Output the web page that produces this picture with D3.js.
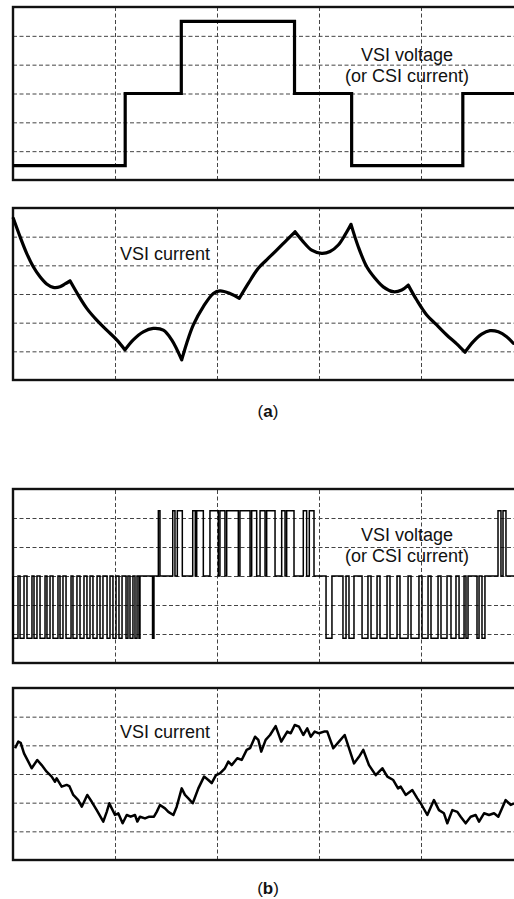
<!DOCTYPE html>
<html>
<head>
<meta charset="utf-8">
<script src="https://cdn.jsdelivr.net/npm/d3@7"></script>
<style>
  html, body { margin: 0; padding: 0; background: #fff; }
  svg { display: block; }
  text { font-family: "Liberation Sans", Arial, Helvetica, sans-serif; fill: #111; }
</style>
</head>
<body>
<svg id="chart" width="514" height="899"></svg>
<script>
// ---------------- DATA (time axis: 0..500, 100 per grid division; values: -3..3 grid divisions) ----------------
const xGridTicks = [100, 200, 300, 400];
const yGridTicks = [-2, -1, 0, 1, 2];

// (a) six-step VSI voltage
const stepTimes  = [0, 110, 165, 276, 332, 441, 500];
const stepLevels = [-2.5, 0, 2.5, 0, -2.5, 0, 0];

// (a) VSI current
const curATimes = [0.3, 6.9, 13.4, 19.9, 26.5, 33.0, 39.5, 46.1, 51.0, 55.9, 64.0, 72.3, 82.1, 91.9, 101.7,
  109.8, 117.9, 127.7, 137.5, 147.4, 155.6, 165.4, 170.3, 176.8, 186.6, 196.4, 202.9, 212.7, 221.9,
  230.7, 240.5, 248.7, 258.5, 268.3, 276.5, 284.6, 292.8, 302.6, 310.8, 318.9, 325.5, 331.4,
  338.5, 346.8, 354.9, 363.0, 372.8, 381.1, 387.5, 395.8, 405.6, 415.4, 425.2, 435.0, 443.1,
  451.3, 459.5, 467.6, 475.8, 484.0, 490.5];
const curAValues = [2.64, 2.00, 1.42, 0.95, 0.60, 0.35, 0.23, 0.25, 0.35, 0.46, -0.04, -0.50, -0.91, -1.26, -1.60,
  -1.95, -1.60, -1.32, -1.20, -1.26, -1.60, -2.30, -1.72, -1.08, -0.44, 0.02, 0.11, 0.02, -0.15,
  0.37, 0.90, 1.19, 1.53, 1.88, 2.17, 1.82, 1.53, 1.42, 1.48, 1.71, 2.06, 2.43,
  1.65, 0.95, 0.55, 0.25, 0.08, 0.14, 0.31, -0.21, -0.73, -1.08, -1.43, -1.74, -2.03,
  -1.66, -1.40, -1.28, -1.32, -1.49, -1.72];
// switching instants (corners of the current waveform)
const commutationTimes = [55.9, 109.8, 165.4, 221.9, 276.5, 331.4, 387.5, 443.1];

// (b) PWM voltage: pulse levels and pulse intervals [start, end]
const pwmHigh = 2.25;
const pwmLow = -2.15;
const negPulses = [
  [0, 4.9], [6.9, 10.8], [13.7, 18.6], [20.6, 23.5], [26.5, 31.4], [33.3, 36.3], [39.2, 44.1], [46.1, 49.0],
  [52.0, 56.9], [58.8, 62.7], [65.7, 69.6], [72.5, 75.5], [78.4, 82.4], [85.3, 88.2], [92.2, 95.1],
  [98.0, 101.0], [103.9, 106.9], [110.8, 112.7], [114.7, 117.6], [119.6, 121.6], [123.5, 124.5], [136.8, 138.2],
  [306.9, 312.7], [323.5, 326.5], [329.4, 334.3], [342.2, 348.0], [351.0, 356.9], [359.8, 366.7], [369.6, 376.5],
  [379.4, 387.3], [390.2, 398.0], [401.0, 406.9], [409.8, 416.7], [419.6, 425.5], [429.4, 434.3], [437.3, 442.2],
  [444.1, 446.1], [454.9, 456.9], [459.8, 462.7]
];
const posPulses = [
  [142.5, 144.1], [156.6, 158.8], [161.1, 166.0], [176.2, 178.7], [180.1, 186.6], [193.1, 201.3], [202.9, 207.8],
  [209.5, 220.9], [222.5, 232.4], [234.0, 238.9], [242.2, 247.1], [248.7, 256.9], [263.4, 266.7], [268.3, 275.5],
  [284.6, 287.9], [290.5, 295.1], [475.5, 478.4], [480.4, 483.3]
];

// (b) VSI current
const curBTimes = [2.0, 5.2, 7.5, 10.8, 15.0, 18.3, 23.8, 28.1, 33.0, 37.9, 41.2, 42.8, 47.7, 52.6, 55.2, 59.1,
  64.0, 67.4, 72.8, 77.2, 82.1, 88.5, 91.9, 94.4, 96.8, 100.0, 103.2, 107.5, 111.5, 115.4, 119.6, 121.9,
  124.5, 129.4, 133.6, 138.2, 140.9, 144.1, 149.0, 152.3, 157.2, 160.5, 165.4, 168.6, 171.9, 176.2, 181.7,
  187.3, 191.5, 194.8, 199.0, 202.9, 207.8, 211.1, 214.4, 219.9, 224.2, 229.1, 232.4, 237.3, 240.5, 243.4,
  247.7, 252.0, 257.5, 263.0, 268.9, 272.3, 276.2, 280.4, 284.6, 288.5, 291.9, 295.8, 300.0, 304.9, 308.1,
  314.0, 319.6, 325.2, 329.4, 334.3, 339.2, 343.4, 349.0, 355.6, 362.1, 367.0, 372.8, 377.5, 380.1, 385.0,
  391.5, 396.4, 399.7, 406.2, 412.7, 417.6, 422.5, 425.8, 430.7, 435.6, 438.9, 443.8, 448.7, 453.6, 456.9,
  461.8, 466.7, 471.6, 475.8, 483.0, 487.9, 491.2];
const curBValues = [0.90, 1.13, 1.09, 0.72, 0.43, 0.20, 0.49, 0.31, 0.08, -0.09, -0.27, -0.15, -0.44, -0.38, -0.42, -0.73,
  -0.91, -1.14, -0.73, -0.97, -1.26, -1.66, -1.32, -1.02, -1.20, -1.43, -1.37, -1.72, -1.43, -1.49, -1.43, -1.66,
  -1.49, -1.55, -1.49, -1.49, -1.32, -1.08, -1.20, -1.32, -1.43, -1.14, -0.50, -0.73, -0.85, -1.02, -0.50,
  -0.09, -0.21, -0.32, -0.04, 0.02, 0.20, 0.43, 0.31, 0.55, 0.49, 0.84, 0.90, 1.30, 1.19, 0.78,
  1.19, 1.36, 1.67, 1.13, 1.48, 1.42, 1.71, 1.65, 1.36, 1.59, 1.30, 1.48, 1.42, 1.48, 1.48,
  0.90, 1.13, 1.36, 0.90, 0.37, 0.60, 0.84, 0.31, -0.04, 0.20, -0.09, -0.21, -0.50, -0.44, -0.73,
  -0.56, -0.85, -1.02, -1.43, -0.91, -1.26, -1.37, -1.72, -1.26, -1.32, -1.49, -1.72, -1.49, -1.43, -1.66,
  -1.37, -1.43, -1.37, -1.49, -0.91, -1.08, -1.02];

const labelVoltage = ["VSI voltage", "(or CSI current)"];
const labelCurrent = "VSI current";
const captions = ["a", "b"];

// ---------------- DRAWING ----------------
const svg = d3.select("#chart");
const X0 = 13, X1 = 523;

function makePanel(top, bottom) {
  const x = d3.scaleLinear().domain([0, 500]).range([X0, X1]);
  const y = d3.scaleLinear().domain([-3, 3]).range([bottom, top]);
  const g = svg.append("g");
  const vg = g.append("g").attr("transform", `translate(0,${bottom})`)
    .call(d3.axisBottom(x).tickValues(xGridTicks).tickSize(-(bottom - top)).tickFormat(""));
  const hg = g.append("g").attr("transform", `translate(${X0},0)`)
    .call(d3.axisLeft(y).tickValues(yGridTicks).tickSize(-(X1 - X0)).tickFormat(""));
  [vg, hg].forEach(a => {
    a.select(".domain").remove();
    a.selectAll(".tick line").attr("stroke", "#444").attr("stroke-width", 1).attr("stroke-dasharray", "4,2.5");
  });
  g.append("rect").attr("x", X0).attr("y", top).attr("width", X1 - X0).attr("height", bottom - top)
    .attr("fill", "none").attr("stroke", "#111").attr("stroke-width", 2.4);
  return { g, x, y, top, bottom };
}

function label(p, x, dy, txt) {
  p.g.append("text").attr("x", x).attr("y", p.top + dy).attr("text-anchor", "middle")
    .attr("font-size", 18).text(txt);
}

// ---- Panel 1: step voltage
const p1 = makePanel(7, 180);
const stepPts = stepTimes.map((t, i) => [t, stepLevels[i]]);
p1.g.append("path").datum(stepPts)
  .attr("d", d3.line().x(d => p1.x(d[0])).y(d => p1.y(d[1])).curve(d3.curveStepAfter))
  .attr("fill", "none").attr("stroke", "#000").attr("stroke-width", 3.2).attr("stroke-linejoin", "miter");
label(p1, 407, 54, labelVoltage[0]);
label(p1, 407, 75, labelVoltage[1]);

// ---- Panel 2: current (a)
const p2 = makePanel(208, 380);
const curA = curATimes.map((t, i) => [t, curAValues[i]]);
const bounds = [-Infinity, ...commutationTimes, Infinity];
const segs = [];
for (let k = 0; k < bounds.length - 1; k++) {
  const s = curA.filter(d => d[0] >= bounds[k] - 0.01 && d[0] <= bounds[k + 1] + 0.01);
  if (s.length > 1) segs.push(s);
}
const lineA = d3.line().x(d => p2.x(d[0])).y(d => p2.y(d[1])).curve(d3.curveCatmullRom.alpha(0.5));
p2.g.append("path").attr("d", segs.map(s => lineA(s)).join(""))
  .attr("fill", "none").attr("stroke", "#000").attr("stroke-width", 3.2)
  .attr("stroke-linecap", "round").attr("stroke-linejoin", "round");
label(p2, 165, 52, labelCurrent);

function caption(yBase, letter) {
  const t = svg.append("text").attr("x", 268).attr("y", yBase).attr("text-anchor", "middle").attr("font-size", 17);
  t.append("tspan").text("(");
  t.append("tspan").attr("font-weight", "bold").text(letter);
  t.append("tspan").text(")");
}
caption(417, captions[0]);

// ---- Panel 3: PWM voltage
const p3 = makePanel(489, 663);
const pulses = negPulses.map(p => [p[0], p[1], pwmLow]).concat(posPulses.map(p => [p[0], p[1], pwmHigh]))
  .sort((a, b) => a[0] - b[0]);
const pwmPts = [[0, 0]];
pulses.forEach(p => { pwmPts.push([p[0], 0], [p[0], p[2]], [p[1], p[2]], [p[1], 0]); });
pwmPts.push([500, 0]);
p3.g.append("path").datum(pwmPts)
  .attr("d", d3.line().x(d => p3.x(d[0])).y(d => p3.y(d[1])))
  .attr("fill", "none").attr("stroke", "#000").attr("stroke-width", 1.5);
label(p3, 407, 52, labelVoltage[0]);
label(p3, 407, 73, labelVoltage[1]);

// ---- Panel 4: current (b)
const p4 = makePanel(688, 860);
const curB = curBTimes.map((t, i) => [t, curBValues[i]]);
p4.g.append("path").datum(curB)
  .attr("d", d3.line().x(d => p4.x(d[0])).y(d => p4.y(d[1])))
  .attr("fill", "none").attr("stroke", "#000").attr("stroke-width", 2.5).attr("stroke-linejoin", "round");
label(p4, 165, 50, labelCurrent);

caption(894, captions[1]);
</script>
</body>
</html>
